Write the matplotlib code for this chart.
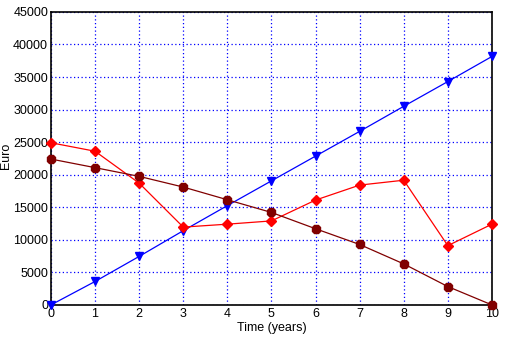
import matplotlib
matplotlib.use("Agg")
import matplotlib.pyplot as plt

plt.rcParams['font.family'] = ['Liberation Sans', 'DejaVu Sans']

years = [0, 1, 2, 3, 4, 5, 6, 7, 8, 9, 10]
blue_vals = [0, 3600, 7450, 11400, 15250, 19050, 22850, 26650, 30500, 34300, 38150]
red_vals = [24900, 23600, 18700, 11950, 12400, 12900, 16100, 18400, 19150, 9100, 12400]
maroon_vals = [22400, 21080, 19740, 18100, 16150, 14200, 11700, 9280, 6300, 2820, 0]
yticks = list(range(0, 45001, 5000))

fig = plt.figure(figsize=(5.2, 3.6), dpi=100)
ax = fig.add_axes([0.098, 0.153, 0.848, 0.814])

ax.plot(years, blue_vals, color='#0000ff', lw=0.9, marker='v', ms=6, clip_on=False, zorder=3)
ax.plot(years, red_vals, color='#ff0000', lw=0.9, marker='D', ms=5.5, clip_on=False, zorder=4)
ax.plot(years, maroon_vals, color='#800000', lw=0.9, marker='8', ms=7, clip_on=False, zorder=5)

ax.set_xlim(0, 10)
ax.set_ylim(0, 45000)
ax.set_xticks(years)
ax.set_yticks(yticks)
ax.tick_params(length=0, labelsize=9, pad=2)
ax.grid(True, color='#0000ff', linestyle=(0, (1, 2)), linewidth=0.9)
for s in ax.spines.values():
    s.set_color('black')
    s.set_linewidth(1.2)

ax.set_xlabel('Time (years)', fontsize=9, labelpad=2)
ax.set_ylabel('Euro', fontsize=9)
ax.yaxis.set_label_coords(-0.088, 0.51)

fig.savefig('out.png', dpi=100)
